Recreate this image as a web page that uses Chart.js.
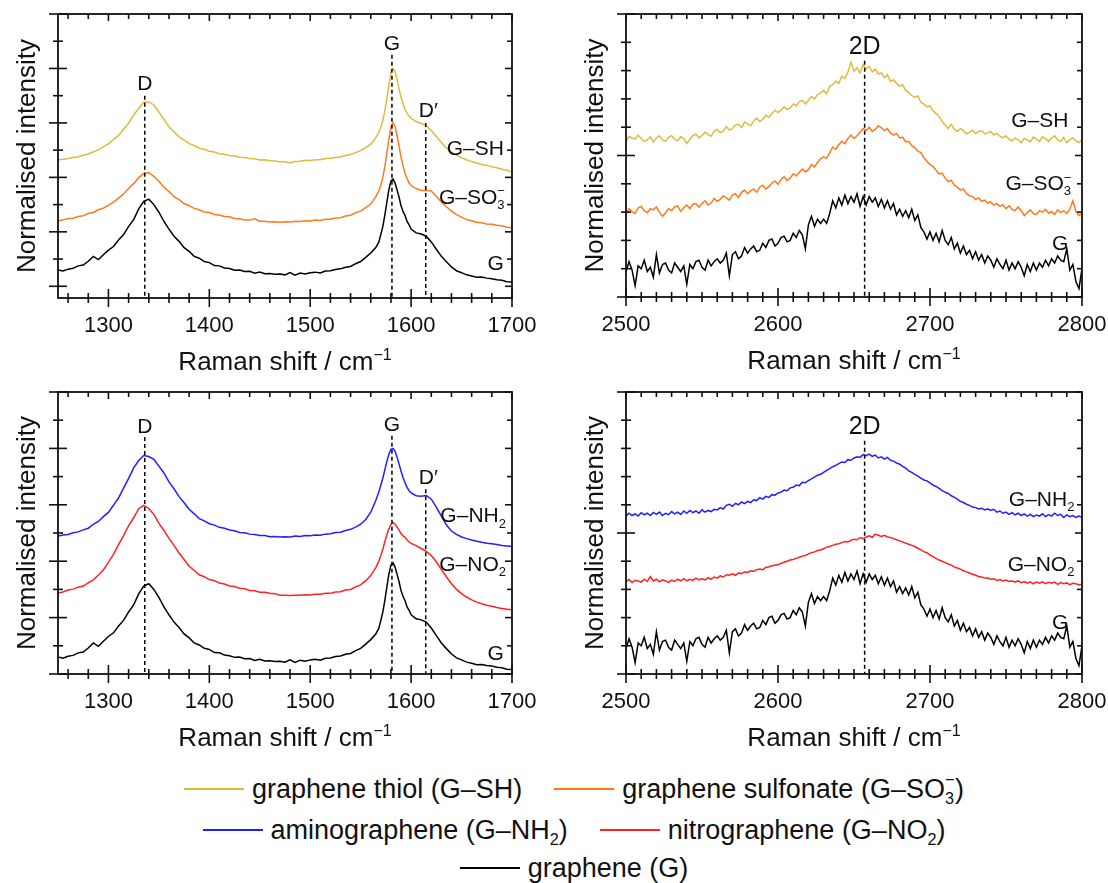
<!DOCTYPE html>
<html>
<head>
<meta charset="utf-8">
<title>Raman spectra</title>
<script src="https://cdn.jsdelivr.net/npm/chart.js@4.4.1/dist/chart.umd.min.js"></script>
<style>
  html, body { margin: 0; padding: 0; background: #fff; overflow: hidden; }
  body { width: 1108px; height: 883px; position: relative; font-family: "Liberation Sans", Arial, sans-serif; color: #111; }
  canvas.panel { position: absolute; }
  .legend-row { position: absolute; left: 0; width: 1148px; height: 40px; display: flex; justify-content: center; align-items: center; font-size: 27px; white-space: nowrap; }
  .legend-item { display: flex; align-items: center; margin: 0 16px; }
  .swatch { display: inline-block; width: 60px; height: 2px; margin-right: 8px; }
  sub { font-size: 0.6em; vertical-align: -0.35em; line-height: 0; }
  .ss { position: relative; display: inline-block; width: 0.62em; height: 1em; font-size: 0.6em; line-height: 1; vertical-align: -0.1em; }
  .ss .up { position: absolute; left: 0; top: -0.75em; }
  .ss .dn { position: absolute; left: 0; top: 0.45em; }
</style>
</head>
<body>
<canvas id="chartTL" class="panel" width="560" height="380" style="left:0;top:0"></canvas>
<canvas id="chartTR" class="panel" width="548" height="380" style="left:560px;top:0"></canvas>
<canvas id="chartBL" class="panel" width="560" height="380" style="left:0;top:380px"></canvas>
<canvas id="chartBR" class="panel" width="548" height="380" style="left:560px;top:380px"></canvas>
<div id="legend"></div>

<script>
// Raman shift grids (cm-1)
const shiftDG = [
  1250, 1255, 1260, 1265, 1270, 1275, 1280, 1285, 1290, 1295,
  1300, 1305, 1310, 1315, 1320, 1325, 1330, 1335, 1340, 1345,
  1350, 1355, 1360, 1365, 1370, 1375, 1380, 1385, 1390, 1395,
  1400, 1405, 1410, 1415, 1420, 1425, 1430, 1435, 1440, 1445,
  1450, 1455, 1460, 1465, 1470, 1475, 1480, 1485, 1490, 1495,
  1500, 1505, 1510, 1515, 1520, 1525, 1530, 1535, 1540, 1545,
  1550, 1555, 1560, 1565,
  1568, 1570, 1572, 1574, 1576, 1578, 1580, 1582, 1584, 1586, 1588, 1590, 1592, 1594, 1596, 1598, 1600,
  1605, 1610, 1615, 1620, 1625, 1630, 1635, 1640, 1645, 1650,
  1655, 1660, 1665, 1670, 1675, 1680, 1685, 1690, 1695, 1700
];
const shift2D = [
  2500, 2502, 2504, 2506, 2508, 2510, 2512, 2514, 2516, 2518,
  2520, 2522, 2524, 2526, 2528, 2530, 2532, 2534, 2536, 2538,
  2540, 2542, 2544, 2546, 2548, 2550, 2552, 2554, 2556, 2558,
  2560, 2562, 2564, 2566, 2568, 2570, 2572, 2574, 2576, 2578,
  2580, 2582, 2584, 2586, 2588, 2590, 2592, 2594, 2596, 2598,
  2600, 2602, 2604, 2606, 2608, 2610, 2612, 2614, 2616, 2618,
  2620, 2622, 2624, 2626, 2628, 2630, 2632, 2634, 2636, 2638,
  2640, 2642, 2644, 2646, 2648, 2650, 2652, 2654, 2656, 2658,
  2660, 2662, 2664, 2666, 2668, 2670, 2672, 2674, 2676, 2678,
  2680, 2682, 2684, 2686, 2688, 2690, 2692, 2694, 2696, 2698,
  2700, 2702, 2704, 2706, 2708, 2710, 2712, 2714, 2716, 2718,
  2720, 2722, 2724, 2726, 2728, 2730, 2732, 2734, 2736, 2738,
  2740, 2742, 2744, 2746, 2748, 2750, 2752, 2754, 2756, 2758,
  2760, 2762, 2764, 2766, 2768, 2770, 2772, 2774, 2776, 2778,
  2780, 2782, 2784, 2786, 2788, 2790, 2792, 2794, 2796, 2798,
  2800
];

// D / G region, offset normalised intensities
const grapheneDG = [
  0.6, 0.56, 0.63, 0.66, 0.75, 0.78, 0.92, 1.1, 0.98, 1.16,
  1.33, 1.46, 1.7, 1.9, 2.2, 2.45, 2.84, 3.12, 3.2, 3.0,
  2.72, 2.38, 2.1, 1.84, 1.65, 1.42, 1.28, 1.1, 1.03, 0.91,
  0.87, 0.76, 0.75, 0.67, 0.65, 0.59, 0.6, 0.54, 0.55, 0.48,
  0.52, 0.46, 0.47, 0.44, 0.45, 0.42, 0.5, 0.41, 0.49, 0.45,
  0.5, 0.52, 0.49, 0.56, 0.57, 0.62, 0.64, 0.7, 0.73, 0.83,
  0.91, 1.06, 1.22, 1.42,
  1.62, 1.9, 2.2, 2.62, 3.1, 3.55, 3.86, 3.94, 3.8, 3.55, 3.28, 2.96, 2.75, 2.6, 2.38, 2.26, 2.1,
  1.96, 1.92, 1.84, 1.63, 1.36, 1.1, 0.9, 0.71, 0.57, 0.5,
  0.42, 0.38, 0.33, 0.34, 0.3, 0.28, 0.24, 0.22, 0.17, 0.16
];
const thiolDG = [
  4.64, 4.67, 4.69, 4.73, 4.76, 4.81, 4.86, 4.94, 5.01, 5.13,
  5.23, 5.39, 5.54, 5.77, 5.99, 6.28, 6.54, 6.76, 6.77, 6.66,
  6.4, 6.13, 5.86, 5.67, 5.49, 5.37, 5.24, 5.17, 5.07, 5.03,
  4.96, 4.93, 4.87, 4.85, 4.8, 4.79, 4.74, 4.73, 4.69, 4.68,
  4.64, 4.65, 4.61, 4.6, 4.57, 4.57, 4.53, 4.58, 4.59, 4.63,
  4.62, 4.65, 4.65, 4.69, 4.7, 4.73, 4.75, 4.8, 4.84, 4.91,
  4.98, 5.09, 5.22, 5.46,
  5.65, 5.85, 6.1, 6.45, 6.9, 7.4, 7.85, 8.0, 7.9, 7.6, 7.25, 6.95, 6.7, 6.5, 6.35, 6.25, 6.17,
  6.05, 5.98, 5.9, 5.72, 5.5, 5.28, 5.08, 4.93, 4.82, 4.72,
  4.65, 4.58, 4.53, 4.47, 4.44, 4.39, 4.35, 4.3, 4.26, 4.2
];
const sulfonateDG = [
  2.4, 2.44, 2.49, 2.5, 2.56, 2.59, 2.67, 2.71, 2.81, 2.87,
  2.98, 3.09, 3.24, 3.39, 3.59, 3.77, 3.99, 4.14, 4.18, 4.04,
  3.86, 3.64, 3.48, 3.29, 3.18, 3.04, 2.96, 2.86, 2.81, 2.73,
  2.71, 2.64, 2.62, 2.56, 2.55, 2.49, 2.48, 2.43, 2.43, 2.48,
  2.39, 2.39, 2.36, 2.37, 2.35, 2.37, 2.36, 2.39, 2.38, 2.41,
  2.4, 2.43, 2.42, 2.46, 2.46, 2.51, 2.52, 2.58, 2.61, 2.7,
  2.76, 2.89, 3.02, 3.29,
  3.5, 3.72, 4.0, 4.4, 4.9, 5.4, 5.85, 6.0, 5.88, 5.55, 5.15, 4.75, 4.42, 4.15, 3.95, 3.8, 3.7,
  3.59, 3.52, 3.53, 3.5, 3.3, 3.1, 2.92, 2.76, 2.63, 2.54,
  2.45, 2.41, 2.35, 2.33, 2.29, 2.28, 2.24, 2.22, 2.17, 2.15
];
const aminoDG = [
  4.89, 4.93, 4.95, 5.01, 5.04, 5.11, 5.17, 5.31, 5.41, 5.58,
  5.73, 5.99, 6.24, 6.59, 6.94, 7.31, 7.57, 7.75, 7.71, 7.61,
  7.37, 7.13, 6.81, 6.57, 6.29, 6.07, 5.84, 5.68, 5.51, 5.43,
  5.33, 5.28, 5.2, 5.17, 5.11, 5.08, 5.02, 5.01, 4.96, 4.95,
  4.91, 4.91, 4.87, 4.88, 4.86, 4.87, 4.86, 4.89, 4.88, 4.91,
  4.9, 4.93, 4.92, 4.96, 4.97, 5.02, 5.03, 5.09, 5.13, 5.21,
  5.31, 5.48, 5.74, 6.15,
  6.45, 6.7, 6.95, 7.25, 7.55, 7.8, 7.97, 8.0, 7.9, 7.7, 7.45, 7.2, 6.97, 6.78, 6.62, 6.5, 6.42,
  6.32, 6.3, 6.33, 6.2, 5.92, 5.6, 5.28, 5.07, 4.95, 4.86,
  4.8, 4.75, 4.71, 4.67, 4.64, 4.62, 4.59, 4.56, 4.54, 4.52
];
const nitroDG = [
  2.87, 2.91, 2.98, 3.01, 3.08, 3.12, 3.23, 3.34, 3.51, 3.69,
  3.96, 4.24, 4.59, 4.91, 5.26, 5.54, 5.86, 5.98, 5.87, 5.66,
  5.34, 5.09, 4.81, 4.56, 4.29, 4.06, 3.82, 3.67, 3.52, 3.45,
  3.35, 3.31, 3.23, 3.19, 3.12, 3.1, 3.04, 3.02, 2.96, 2.95,
  2.9, 2.9, 2.86, 2.85, 2.79, 2.79, 2.78, 2.79, 2.79, 2.81,
  2.8, 2.83, 2.83, 2.86, 2.86, 2.91, 2.92, 2.98, 3.0, 3.09,
  3.16, 3.31, 3.49, 3.77,
  4.0, 4.2, 4.42, 4.7, 4.95, 5.15, 5.3, 5.37, 5.32, 5.22, 5.1, 4.98, 4.9, 4.85, 4.75, 4.68, 4.63,
  4.55, 4.45, 4.35, 4.2, 3.98, 3.7, 3.45, 3.2, 3.0, 2.85,
  2.73, 2.63, 2.55, 2.49, 2.44, 2.4, 2.36, 2.32, 2.3, 2.28
];

// 2D region (five points per 10 cm-1)
const graphene2D = [
  0.9, 1.25, 0.95, 0.4, 1.1,   1.0, 1.3, 0.9, 1.05, 0.7,
  1.5, 0.85, 1.15, 1.2, 0.95,  0.85, 1.2, 1.05, 0.9, 1.1,
  0.45, 1.15, 1.0, 1.25, 1.3,  1.05, 0.95, 1.3, 1.1, 1.25,
  1.35, 1.2, 1.3, 1.55, 0.75,  1.5, 1.6, 1.35, 1.45, 1.75,
  1.55, 1.7, 1.8, 1.6, 1.65,   1.9, 1.75, 2.0, 2.05, 1.8,
  1.9, 2.1, 2.15, 1.95, 2.0,   2.25, 2.1, 2.35, 2.2, 1.7,
  2.55, 2.85, 2.5, 2.75, 2.6,  2.75, 2.6, 2.95, 3.4, 3.15,
  3.5, 3.25, 3.6, 3.3, 3.55,   3.35, 3.65, 3.2, 3.55, 3.25,
  3.55, 3.35, 3.5, 3.2, 3.45,  3.15, 3.4, 3.1, 3.3, 2.9,
  3.1, 2.85, 3.05, 2.8, 3.1,   2.7, 2.9, 2.45, 2.3, 2.05,
  2.3, 2.0, 2.25, 1.95, 2.35,  2.0, 1.85, 2.1, 1.7, 1.9,
  1.55, 1.8, 1.5, 1.65, 1.35,  1.6, 1.3, 1.5, 1.2, 1.45,
  1.3, 1.05, 1.35, 1.15, 1.0,  1.3, 0.95, 1.2, 1.0, 1.25,
  1.05, 0.75, 1.15, 0.9, 1.2,  0.95, 1.2, 1.05, 1.3, 1.1,
  1.35, 1.2, 1.45, 1.3, 1.25,  1.7, 0.95, 1.15, 0.55, 0.3,
  1.0
];
const thiol2D = [
  5.5, 5.68, 5.62, 5.58, 5.72,   5.6, 5.5, 5.55, 5.66, 5.48,
  5.62, 5.7, 5.55, 5.5, 5.64,    5.7, 5.58, 5.52, 5.66, 5.6,
  5.42, 5.58, 5.7, 5.75, 5.62,   5.7, 5.82, 5.74, 5.68, 5.86,
  5.92, 5.8, 5.86, 6.02, 5.9,    5.95, 6.08, 6.1, 5.98, 6.18,
  6.12, 6.05, 6.22, 6.32, 6.2,   6.28, 6.42, 6.35, 6.48, 6.6,
  6.52, 6.6, 6.72, 6.62, 6.68,   6.82, 6.75, 6.9, 6.95, 6.82,
  6.95, 7.08, 7.0, 7.15, 7.2,    7.3, 7.18, 7.45, 7.5, 7.62,
  7.55, 7.8, 7.72, 7.95, 8.3,    7.98, 8.1, 7.92, 8.2, 8.05,
  8.15, 7.95, 8.05, 7.88, 7.92,  7.75, 7.85, 7.62, 7.68, 7.55,
  7.45, 7.5, 7.3, 7.22, 7.12,    7.05, 7.1, 6.88, 6.82, 6.72,
  6.75, 6.58, 6.48, 6.38, 6.2,   6.08, 5.95, 6.1, 5.92, 5.85,
  5.95, 5.88, 5.76, 5.82, 5.9,   5.78, 5.85, 5.88, 5.76, 5.8,
  5.85, 5.72, 5.78, 5.68, 5.62,  5.7, 5.58, 5.52, 5.62, 5.55,
  5.45, 5.6, 5.55, 5.48, 5.65,   5.58, 5.5, 5.66, 5.6, 5.5,
  5.62, 5.7, 5.55, 5.5, 5.64,    5.45, 5.56, 5.62, 5.52, 5.46,
  5.55
];
const sulfonate2D = [
  2.92, 3.12, 3.02, 2.95, 3.15,  3.2, 3.05, 2.98, 3.12, 3.08,
  3.18, 3.0, 2.85, 2.98, 3.12,   3.05, 3.18, 3.22, 3.02, 3.15,
  3.25, 3.12, 3.28, 3.3, 3.18,   3.3, 3.4, 3.25, 3.32, 3.48,
  3.38, 3.45, 3.58, 3.5, 3.42,   3.6, 3.65, 3.52, 3.7, 3.78,
  3.65, 3.75, 3.82, 3.7, 3.88,   3.95, 3.82, 3.9, 4.02, 4.1,
  3.98, 4.15, 4.25, 4.12, 4.2,   4.35, 4.28, 4.4, 4.52, 4.42,
  4.5, 4.68, 4.6, 4.75, 4.88,    4.95, 4.9, 5.1, 5.3, 5.22,
  5.38, 5.5, 5.42, 5.6, 5.72,    5.6, 5.7, 5.82, 5.95, 5.88,
  6.0, 5.85, 5.92, 6.05, 5.98,   5.88, 5.95, 5.8, 5.72, 5.78,
  5.62, 5.65, 5.48, 5.5, 5.35,   5.28, 5.15, 5.1, 4.92, 4.8,
  4.68, 4.62, 4.48, 4.35, 4.38,  4.2, 4.08, 4.12, 3.95, 3.88,
  3.78, 3.82, 3.65, 3.58, 3.55,  3.45, 3.5, 3.38, 3.42, 3.32,
  3.36, 3.25, 3.3, 3.2, 3.26,    3.12, 3.22, 3.1, 3.05, 3.18,
  3.05, 2.88, 2.98, 3.08, 2.95,  2.92, 3.05, 3.0, 3.1, 2.96,
  3.02, 2.92, 3.08, 2.98, 3.04,  2.95, 3.1, 3.4, 3.02, 2.88,
  2.95
];
const amino2D = [
  5.6, 5.7, 5.62, 5.68, 5.6,     5.72, 5.64, 5.7, 5.62, 5.73,
  5.66, 5.74, 5.62, 5.7, 5.65,   5.76, 5.68, 5.74, 5.66, 5.78,
  5.7, 5.8, 5.72, 5.78, 5.7,     5.82, 5.74, 5.8, 5.76, 5.84,
  5.82, 5.9, 5.85, 5.98, 6.02,   5.95, 6.05, 6.0, 6.1, 6.04,
  6.12, 6.08, 6.18, 6.15, 6.25,  6.2, 6.3, 6.26, 6.36, 6.34,
  6.42, 6.45, 6.52, 6.5, 6.6,    6.62, 6.7, 6.68, 6.8, 6.78,
  6.86, 6.92, 6.98, 7.05, 7.08,  7.15, 7.22, 7.28, 7.35, 7.4,
  7.46, 7.52, 7.5, 7.6, 7.58,    7.66, 7.7, 7.68, 7.78, 7.74,
  7.8, 7.72, 7.76, 7.66, 7.7,    7.62, 7.68, 7.58, 7.55, 7.48,
  7.44, 7.36, 7.3, 7.2, 7.15,    7.08, 7.02, 6.95, 6.88, 6.85,
  6.78, 6.7, 6.65, 6.58, 6.5,    6.45, 6.4, 6.32, 6.26, 6.2,
  6.12, 6.08, 6.02, 5.98, 5.92,  5.9, 5.85, 5.88, 5.82, 5.86,
  5.8, 5.84, 5.74, 5.78, 5.7,    5.74, 5.66, 5.72, 5.64, 5.7,
  5.62, 5.68, 5.6, 5.66, 5.58,   5.64, 5.6, 5.68, 5.58, 5.65,
  5.6, 5.7, 5.62, 5.66, 5.55,    5.64, 5.58, 5.62, 5.55, 5.6,
  5.56
];
const nitro2D = [
  3.28, 3.35, 3.24, 3.32, 3.3,   3.26, 3.36, 3.28, 3.45, 3.3,
  3.36, 3.27, 3.34, 3.3, 3.25,   3.33, 3.28, 3.36, 3.3, 3.38,
  3.3, 3.36, 3.32, 3.4, 3.34,    3.38, 3.34, 3.42, 3.36, 3.44,
  3.4, 3.48, 3.44, 3.52, 3.5,    3.55, 3.5, 3.58, 3.56, 3.62,
  3.6, 3.66, 3.64, 3.7, 3.72,    3.7, 3.78, 3.8, 3.84, 3.86,
  3.88, 3.92, 3.96, 4.0, 4.04,   4.06, 4.1, 4.14, 4.18, 4.2,
  4.26, 4.3, 4.33, 4.38, 4.4,    4.44, 4.5, 4.52, 4.56, 4.6,
  4.62, 4.66, 4.7, 4.68, 4.74,   4.78, 4.76, 4.84, 4.8, 4.86,
  4.9, 4.85, 4.96, 4.92, 4.88,   4.92, 4.86, 4.84, 4.8, 4.76,
  4.72, 4.68, 4.64, 4.6, 4.56,   4.52, 4.46, 4.4, 4.34, 4.3,
  4.22, 4.16, 4.1, 4.04, 4.0,    3.95, 3.9, 3.86, 3.8, 3.76,
  3.72, 3.66, 3.62, 3.58, 3.54,  3.5, 3.46, 3.44, 3.4, 3.4,
  3.36, 3.38, 3.32, 3.35, 3.3,   3.33, 3.28, 3.3, 3.26, 3.3,
  3.24, 3.28, 3.22, 3.27, 3.2,   3.26, 3.22, 3.27, 3.2, 3.25,
  3.22, 3.26, 3.18, 3.24, 3.2,   3.23, 3.17, 3.22, 3.2, 3.16,
  3.18
];

// labelled x ticks
const ticksDG = [1300, 1400, 1500, 1600, 1700];
const ticks2D = [2500, 2600, 2700, 2800];

const colors = {
  thiol: '#dcbb3e',
  sulfonate: '#ff7a1c',
  amino: '#1f1fff',
  nitro: '#ff2222',
  graphene: '#000000'
};

const FONT = '"Liberation Sans", Arial, sans-serif';

const panels = [
  {
    canvas: 'chartTL', padding: { left: 58, top: 14, right: 48, bottom: 82 },
    xRange: [1250, 1700], yRange: [-0.43, 10], xMinor: 20, xLabels: ticksDG, yMajorEvery: 2,
    series: [[thiolDG, shiftDG, colors.thiol], [sulfonateDG, shiftDG, colors.sulfonate], [grapheneDG, shiftDG, colors.graphene]],
    marks: [
      { x: 1336, label: 'D', labelY: 7.2, lineTop: 7.0, size: 21 },
      { x: 1581, label: 'G', labelY: 8.68, lineTop: 8.5, size: 21 },
      { x: 1614.5, dx: 2.5, label: 'D′', labelY: 6.22, lineTop: 6.0, size: 21 }
    ],
    tags: [
      { parts: ['G–SH'], x: 1692, y: 4.82 },
      { parts: ['G–SO', { sub: '3', sup: '−' }], x: 1693, y: 3.04 },
      { parts: ['G'], x: 1692, y: 0.59 }
    ]
  },
  {
    canvas: 'chartTR', padding: { left: 66, top: 14, right: 26, bottom: 83 },
    xRange: [2500, 2800], yRange: [0, 10], xMinor: 10, xLabels: ticks2D, yMajorEvery: 5,
    series: [[thiol2D, shift2D, colors.thiol], [sulfonate2D, shift2D, colors.sulfonate], [graphene2D, shift2D, colors.graphene]],
    marks: [{ x: 2657, label: '2D', labelY: 8.6, lineTop: 8.35, size: 25 }],
    tags: [
      { parts: ['G–SH'], x: 2791, y: 6.02 },
      { parts: ['G–SO', { sub: '3', sup: '−' }], x: 2793, y: 3.78 },
      { parts: ['G'], x: 2791, y: 1.66 }
    ]
  },
  {
    canvas: 'chartBL', padding: { left: 58, top: 12, right: 48, bottom: 86 },
    xRange: [1250, 1700], yRange: [0, 10], xMinor: 20, xLabels: ticksDG, yMajorEvery: 2,
    series: [[aminoDG, shiftDG, colors.amino], [nitroDG, shiftDG, colors.nitro], [grapheneDG, shiftDG, colors.graphene]],
    marks: [
      { x: 1336, label: 'D', labelY: 8.56, lineTop: 8.4, size: 21 },
      { x: 1581, label: 'G', labelY: 8.62, lineTop: 8.45, size: 21 },
      { x: 1614.5, dx: 2.5, label: 'D′', labelY: 6.74, lineTop: 6.55, size: 21 }
    ],
    tags: [
      { parts: ['G–NH', { sub: '2' }], x: 1694, y: 5.38 },
      { parts: ['G–NO', { sub: '2' }], x: 1694, y: 3.67 },
      { parts: ['G'], x: 1692, y: 0.49 }
    ]
  },
  {
    canvas: 'chartBR', padding: { left: 66, top: 12, right: 26, bottom: 86 },
    xRange: [2500, 2800], yRange: [0, 10], xMinor: 10, xLabels: ticks2D, yMajorEvery: 5,
    series: [[amino2D, shift2D, colors.amino], [nitro2D, shift2D, colors.nitro], [graphene2D, shift2D, colors.graphene]],
    marks: [{ x: 2657, label: '2D', labelY: 8.5, lineTop: 8.27, size: 25 }],
    tags: [
      { parts: ['G–NH', { sub: '2' }], x: 2795, y: 5.97 },
      { parts: ['G–NO', { sub: '2' }], x: 2795, y: 3.67 },
      { parts: ['G'], x: 2791, y: 1.61 }
    ]
  }
];

const panelByCanvas = {};
panels.forEach(p => { panelByCanvas[p.canvas] = p; });

function richWidth(ctx, parts, size) {
    let w = 0;
    parts.forEach(p => {
        if (typeof p === 'string') {
            ctx.font = size + 'px ' + FONT;
            w += ctx.measureText(p).width;
        } else {
            ctx.font = Math.round(size * 0.62) + 'px ' + FONT;
            const a = p.sub ? ctx.measureText(p.sub).width : 0;
            const b = p.sup ? ctx.measureText(p.sup).width : 0;
            w += Math.max(a, b);
        }
    });
    return w;
}

function drawRich(ctx, parts, x, y, size, align) {
    const w = richWidth(ctx, parts, size);
    let cx = align === 'right' ? x - w : (align === 'center' ? x - w / 2 : x);
    ctx.textAlign = 'left';
    ctx.textBaseline = 'alphabetic';
    parts.forEach(p => {
        if (typeof p === 'string') {
            ctx.font = size + 'px ' + FONT;
            ctx.fillText(p, cx, y);
            cx += ctx.measureText(p).width;
        } else {
            ctx.font = Math.round(size * 0.62) + 'px ' + FONT;
            let pw = 0;
            if (p.sup) {
                ctx.fillText(p.sup, cx, y - size * 0.4);
                pw = Math.max(pw, ctx.measureText(p.sup).width);
            }
            if (p.sub) {
                ctx.fillText(p.sub, cx, y + size * 0.25);
                pw = Math.max(pw, ctx.measureText(p.sub).width);
            }
            cx += pw;
        }
    });
}

const spectrumFrame = {
    id: 'spectrumFrame',
    afterDatasetsDraw(chart) {
        const spec = panelByCanvas[chart.canvas.id];
        const ctx = chart.ctx;
        const { left, right, top, bottom } = chart.chartArea;
        const xs = chart.scales.x;
        const ys = chart.scales.y;
        const seg = (x1, y1, x2, y2) => {
            ctx.beginPath();
            ctx.moveTo(x1, y1);
            ctx.lineTo(x2, y2);
            ctx.stroke();
        };

        ctx.save();

        // dashed peak markers
        ctx.strokeStyle = '#000';
        ctx.lineWidth = 1.5;
        ctx.setLineDash([4, 3]);
        spec.marks.forEach(m => {
            const px = xs.getPixelForValue(m.x);
            seg(px, ys.getPixelForValue(m.lineTop), px, bottom);
        });
        ctx.setLineDash([]);

        ctx.fillStyle = '#111';
        spec.marks.forEach(m => {
            drawRich(ctx, [m.label], xs.getPixelForValue(m.x + (m.dx || 0)), ys.getPixelForValue(m.labelY), m.size, 'center');
        });
        spec.tags.forEach(t => {
            drawRich(ctx, t.parts, xs.getPixelForValue(t.x), ys.getPixelForValue(t.y), 21, 'right');
        });

        // frame
        ctx.strokeStyle = '#111';
        ctx.lineWidth = 1.8;
        ctx.strokeRect(left, top, right - left, bottom - top);

        // ticks: crossing on bottom/left, inward on top/right
        ctx.lineWidth = 1.6;
        const [x0, x1] = spec.xRange;
        for (let v = Math.ceil(x0 / spec.xMinor) * spec.xMinor; v <= x1; v += spec.xMinor) {
            const px = xs.getPixelForValue(v);
            const major = spec.xLabels.includes(v);
            const len = major ? 9 : 5;
            seg(px, bottom - len, px, bottom + len);
            seg(px, top, px, top + (major ? 7 : 5));
        }
        for (let v = 0; v <= 10; v++) {
            const py = ys.getPixelForValue(v);
            const major = v % spec.yMajorEvery === 0;
            const len = major ? 9 : 5;
            seg(left - len, py, left + len, py);
            seg(right - (major ? 7 : 5), py, right, py);
        }

        // tick labels and axis titles
        ctx.fillStyle = '#111';
        ctx.font = '22px ' + FONT;
        ctx.textAlign = 'center';
        ctx.textBaseline = 'alphabetic';
        spec.xLabels.forEach(v => ctx.fillText(String(v), xs.getPixelForValue(v), bottom + 34));

        drawRich(ctx, ['Raman shift / cm', { sup: '−1' }], (left + right) / 2, bottom + 72, 26, 'center');

        ctx.save();
        ctx.translate(left - 23, (top + bottom) / 2);
        ctx.rotate(-Math.PI / 2);
        drawRich(ctx, ['Normalised intensity'], 0, 0, 26, 'center');
        ctx.restore();

        ctx.restore();
    }
};

panels.forEach(spec => {
    const datasets = spec.series.map(([ys, xs, color]) => ({
        data: xs.map((x, i) => ({ x: x, y: ys[i] })),
        borderColor: color,
        borderWidth: 1.5,
        pointRadius: 0,
        tension: 0,
        fill: false
    }));

    new Chart(document.getElementById(spec.canvas), {
        type: 'line',
        data: { datasets: datasets },
        options: {
            responsive: false,
            animation: false,
            devicePixelRatio: 1,
            events: [],
            layout: { padding: spec.padding },
            plugins: {
                legend: { display: false },
                tooltip: { enabled: false }
            },
            scales: {
                x: { type: 'linear', display: false, min: spec.xRange[0], max: spec.xRange[1] },
                y: { type: 'linear', display: false, min: spec.yRange[0], max: spec.yRange[1] }
            }
        },
        plugins: [spectrumFrame]
    });
});

// legend below the panels
const legendRows = [
    { top: 769, items: [
        [colors.thiol, 'graphene thiol (G–SH)'],
        [colors.sulfonate, 'graphene sulfonate (G–SO<span class="ss"><span class="up">−</span><span class="dn">3</span></span>)']
    ] },
    { top: 810, items: [
        [colors.amino, 'aminographene (G–NH<sub>2</sub>)'],
        [colors.nitro, 'nitrographene (G–NO<sub>2</sub>)']
    ] },
    { top: 848, items: [
        [colors.graphene, 'graphene (G)']
    ] }
];

const legend = document.getElementById('legend');
legendRows.forEach(row => {
    const div = document.createElement('div');
    div.className = 'legend-row';
    div.style.top = row.top + 'px';
    div.innerHTML = row.items.map(([color, text]) =>
        `<span class="legend-item"><i class="swatch" style="background:${color}"></i><span>${text}</span></span>`
    ).join('');
    legend.appendChild(div);
});
</script>
</body>
</html>
